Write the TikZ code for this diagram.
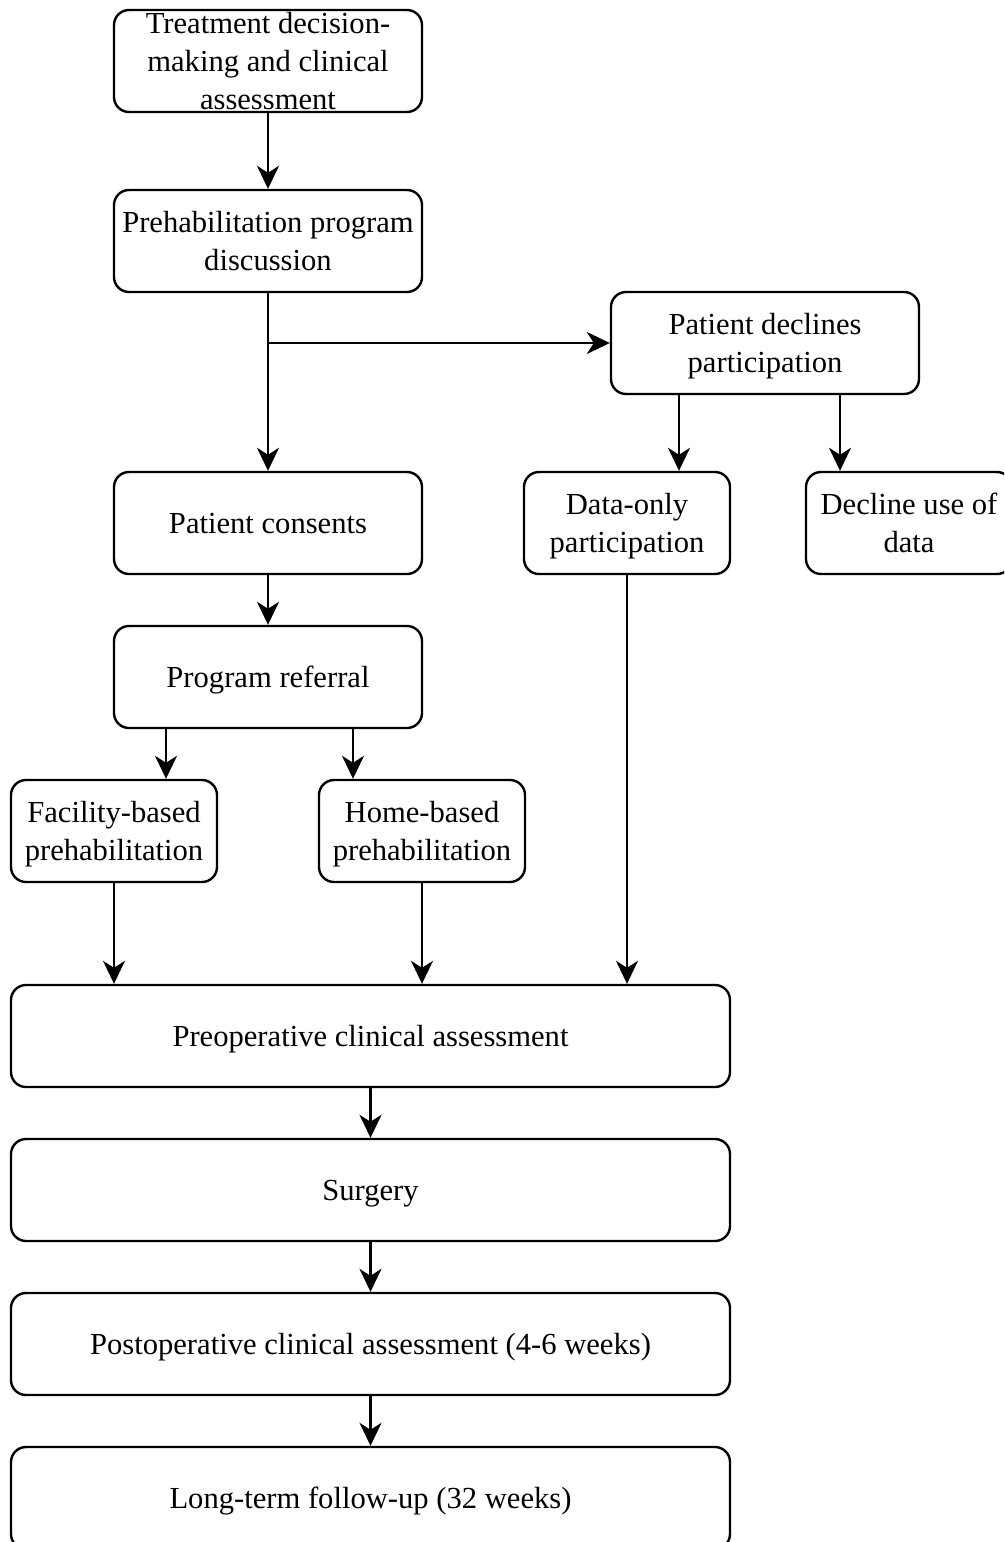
\documentclass[tikz,border=0pt]{standalone}
\usepackage{fontspec}
\setmainfont{Liberation Serif}
\usetikzlibrary{arrows.meta}
\newcommand{\bs}{\rule[-0.216em]{0pt}{1.107em}}
\begin{document}
\begin{tikzpicture}[x=1pt,y=-1pt,
  box/.style={draw, line width=2.4pt, rounded corners=15pt, inner sep=0pt, align=center,
    minimum width=308pt, minimum height=102pt, font=\fontsize{30.6}{38}\selectfont},
  sbox/.style={box, minimum width=206pt},
  wbox/.style={box, minimum width=719pt},
  arr/.style={line width=2.4pt, -{Stealth[length=23pt,width=22pt,inset=7pt]}}]
\useasboundingbox (0,0) rectangle (1004,1542);
\clip (0,0) rectangle (1004,1542);
\node[box, inner ysep=-6pt] (n1) at (268,61) {\bs Treatment decision-\\making and clinical\\assessment\bs};
\node[box] (n2) at (268,241) {\bs Prehabilitation program\\discussion\bs};
\node[box] (n3) at (765,343) {\bs Patient declines\\participation\bs};
\node[box] (n4) at (268,523) {\bs Patient consents\bs};
\node[sbox] (n5) at (627,523) {\bs Data-only\\participation\bs};
\node[sbox] (n6) at (909,523) {\bs Decline use of\\data\bs};
\node[box] (n7) at (268,677) {\bs Program referral\bs};
\node[sbox] (n8) at (114,831) {\bs Facility-based\\prehabilitation\bs};
\node[sbox] (n9) at (422,831) {\bs Home-based\\prehabilitation\bs};
\node[wbox] (n10) at (370.5,1036) {\bs Preoperative clinical assessment\bs};
\node[wbox] (n11) at (370.5,1190) {\bs Surgery\bs};
\node[wbox] (n12) at (370.5,1344) {\bs Postoperative clinical assessment (4-6 weeks)\bs};
\node[wbox] (n13) at (370.5,1498) {\bs Long-term follow-up (32 weeks)\bs};
\coordinate (b) at (268,343);
\draw[arr] (n1) -- (n2);
\draw[arr] (n2) -- (n4);
\draw[arr] (b) -- (n3.west);
\draw[arr] ([xshift=-86pt]n3.south) -- ([xshift=-86pt]n3.south |- n5.north);
\draw[arr] ([xshift=75pt]n3.south) -- ([xshift=75pt]n3.south |- n6.north);
\draw[arr] (n4) -- (n7);
\draw[arr] ([xshift=-102pt]n7.south) -- ([xshift=-102pt]n7.south |- n8.north);
\draw[arr] ([xshift=85pt]n7.south) -- ([xshift=85pt]n7.south |- n9.north);
\draw[arr] (n8.south) -- (n8.south |- n10.north);
\draw[arr] (n9.south) -- (n9.south |- n10.north);
\draw[arr] (n5.south) -- (n5.south |- n10.north);
\draw[arr] (n10) -- (n11);
\draw[arr] (n11) -- (n12);
\draw[arr] (n12) -- (n13);
\end{tikzpicture}
\end{document}
